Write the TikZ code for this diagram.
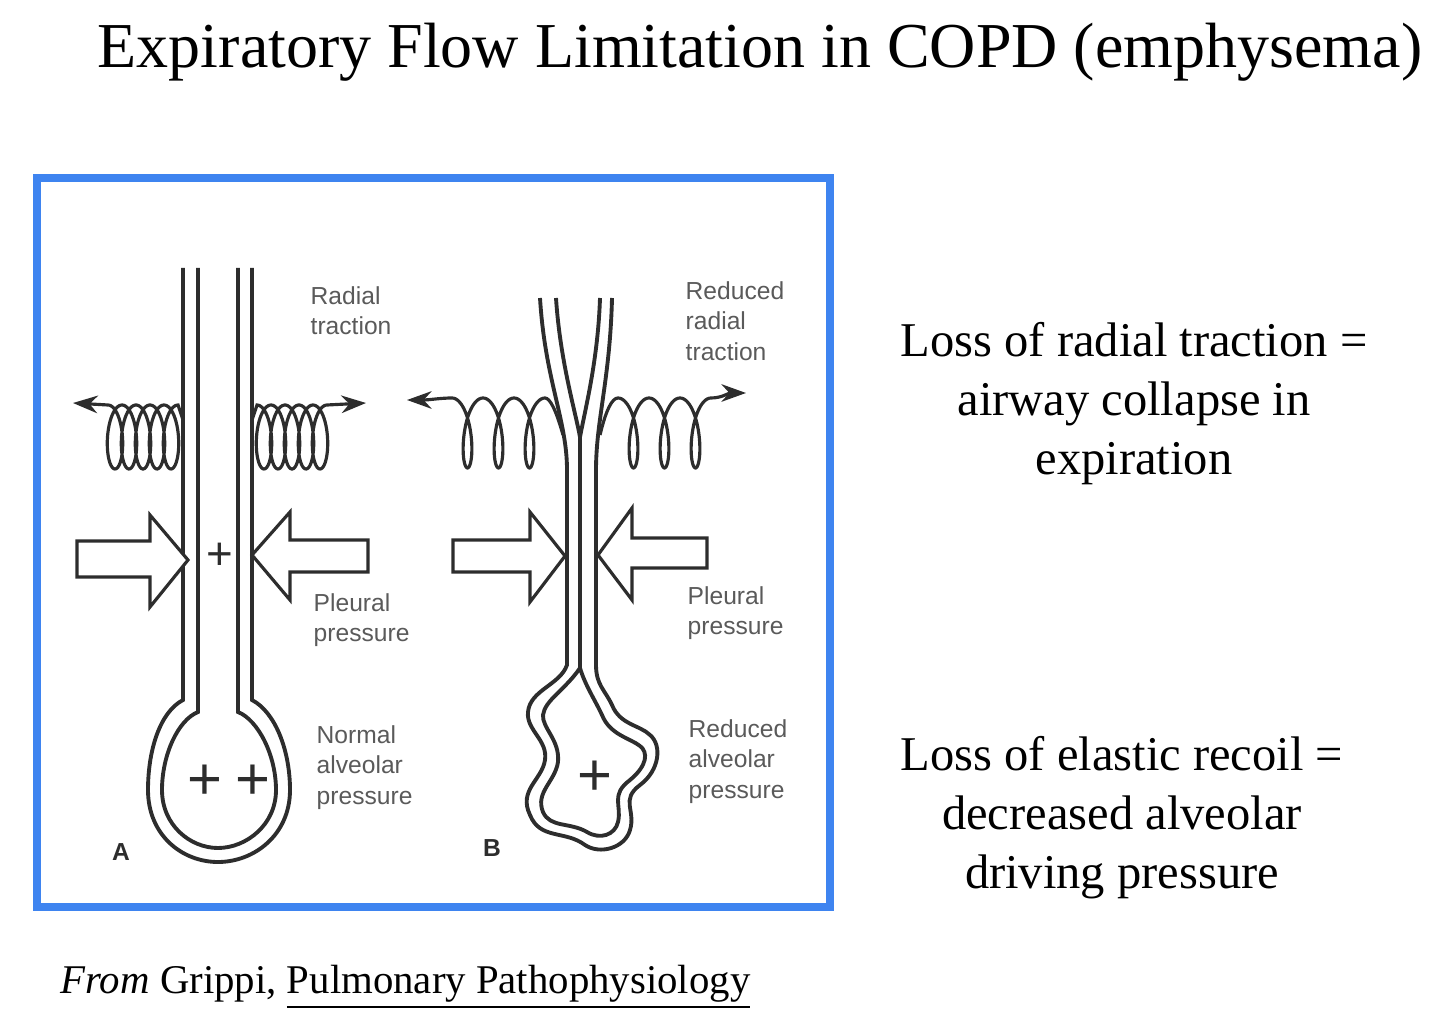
\documentclass[tikz,border=0pt]{standalone}
\usepackage{fontspec}
\setmainfont{Liberation Serif}
\newfontfamily\figfont{Liberation Sans}
\usetikzlibrary{arrows.meta}
\definecolor{frameblue}{RGB}{62,132,240}
\definecolor{inkgray}{RGB}{45,45,45}
\definecolor{labelgray}{RGB}{90,90,90}

\begin{document}
\begin{tikzpicture}[x=0.01cm, y=-0.01cm,
    wall/.style={draw=inkgray, line width=1.1pt},
    pull/.style={draw=inkgray, line width=0.9pt, -{Stealth[length=7pt,width=5pt]}},
    push/.style={draw=inkgray, line width=0.9pt, fill=white},
    lbl/.style={font=\figfont\fontsize{7}{8.6}\selectfont, text=labelgray, align=left, anchor=north west, inner sep=0pt},
    plus/.style={font=\figfont\fontsize{13}{13}\selectfont, text=inkgray, inner sep=0pt},
    side/.style={font=\fontsize{13.8}{16.8}\selectfont, align=center, inner sep=0pt}]
    \useasboundingbox (0,0) rectangle (1440,1031);

    % === Title and frame ===
    \node[font=\fontsize{18.2}{22}\selectfont, inner sep=0pt] (title) at (760,52) {Expiratory Flow Limitation in COPD (emphysema)};
    \draw[frameblue, line width=2.3pt] (37,178) rectangle (830,907);

    % === Panel A – normal airway ===
    \draw[wall] (183,268) -- (183,700) .. controls (160,712) and (148,750) .. (148,790)
        .. controls (148,835) and (182,862) .. (218,862) .. controls (254,862) and (290,835) .. (290,790)
        .. controls (290,750) and (275,712) .. (252,700) -- (252,268);
    \draw[wall] (198,268) -- (198,712) .. controls (178,720) and (162,755) .. (162,790)
        .. controls (162,825) and (190,848) .. (218,848) .. controls (246,848) and (276,825) .. (276,790)
        .. controls (276,755) and (258,720) .. (238,712) -- (238,268);
    \coordinate (aL) at (73,403);
    \coordinate (aR) at (366,403);
    \draw[pull] (183,420) -- plot[domain=0:31.416, samples=260, variable=\t] ({178-14*\t/6.2832-11*sin(\t r)},{437-32*cos(\t r)}) -- (aL);
    \draw[pull] (252,420) -- plot[domain=0:31.416, samples=260, variable=\t] ({257+14*\t/6.2832+11*sin(\t r)},{437-32*cos(\t r)}) -- (aR);
    \draw[push] (77,541) -- (150,541) -- (150,515) -- (188,560) -- (150,607) -- (150,577) -- (77,577) -- cycle;
    \draw[push] (368,540) -- (290,540) -- (290,512) -- (252,555) -- (290,600) -- (290,572) -- (368,572) -- cycle;
    \node[plus] (aTube) at (220,556) {+};
    \node[plus, font=\figfont\fontsize{17}{17}\selectfont] (aSac1) at (205,782) {+};
    \node[plus, font=\figfont\fontsize{17}{17}\selectfont] (aSac2) at (253,782) {+};
    \node[lbl] (aRad) at (310,286) {Radial\\traction};
    \node[lbl] (aPle) at (313,593) {Pleural\\pressure};
    \node[lbl] (aAlv) at (316,725) {Normal\\alveolar\\pressure};
    \node[font=\figfont\bfseries\fontsize{7}{8}\selectfont, text=inkgray] (aTag) at (121,852) {A};

    % === Panel B – emphysema ===
    \draw[wall] (540,298) .. controls (545,380) and (567,420) .. (567,470) -- (567,665)
        .. controls (560,685) and (530,690) .. (528,712) .. controls (526,730) and (548,740) .. (545,760)
        .. controls (542,780) and (518,790) .. (530,815) .. controls (540,840) and (565,830) .. (585,845)
        .. controls (600,855) and (625,848) .. (630,830) .. controls (636,810) and (620,800) .. (640,785)
        .. controls (660,770) and (662,745) .. (650,735) .. controls (640,725) and (620,725) .. (612,705)
        .. controls (605,690) and (596,685) .. (596,665) -- (596,470) .. controls (596,420) and (610,380) .. (612,298);
    \draw[wall] (556,298) .. controls (560,360) and (575,410) .. (580,437) .. controls (585,410) and (598,360) .. (600,298);
    \draw[wall] (580,437) -- (580,668)
        .. controls (565,690) and (545,700) .. (543,715) .. controls (542,728) and (560,740) .. (558,762)
        .. controls (555,782) and (535,792) .. (543,812) .. controls (550,828) and (570,822) .. (587,832)
        .. controls (600,840) and (615,835) .. (618,822) .. controls (622,805) and (610,795) .. (630,780)
        .. controls (648,765) and (648,752) .. (640,746) .. controls (630,738) and (610,735) .. (602,715)
        .. controls (595,700) and (585,685) .. (580,668);
    \coordinate (bL) at (407,400);
    \coordinate (bR) at (746,393);
    \draw[pull] (563,435) .. controls (556,410) and (550,398) .. (545,398)
        -- plot[domain=0:18.85, samples=220, variable=\t] ({545-31*\t/6.2832-11*sin(\t r)},{433-35*cos(\t r)})
        .. controls (440,398) and (430,400) .. (bL);
    \draw[pull] (600,435) .. controls (606,410) and (612,398) .. (618,398)
        -- plot[domain=0:18.85, samples=220, variable=\t] ({618+31*\t/6.2832+11*sin(\t r)},{433-35*cos(\t r)})
        .. controls (722,398) and (728,393) .. (bR);
    \draw[push] (453,540) -- (530,540) -- (530,512) -- (565,556) -- (530,602) -- (530,572) -- (453,572) -- cycle;
    \draw[push] (707,538) -- (632,538) -- (632,508) -- (598,555) -- (632,600) -- (632,568) -- (707,568) -- cycle;
    \node[plus, font=\figfont\fontsize{17}{17}\selectfont] (bSac) at (595,778) {+};
    \node[lbl] (bRad) at (685,281) {Reduced\\radial\\traction};
    \node[lbl] (bPle) at (687,586) {Pleural\\pressure};
    \node[lbl] (bAlv) at (688,719) {Reduced\\alveolar\\pressure};
    \node[font=\figfont\bfseries\fontsize{7}{8}\selectfont, text=inkgray] (bTag) at (492,848) {B};

    % === Side notes ===
    \node[side] (noteTop) at (1134,404) {Loss of radial traction =\\airway collapse in\\expiration};
    \node[side] (noteBot) at (1122,818) {Loss of elastic recoil =\\decreased alveolar\\driving pressure};
    \node[font=\fontsize{11.6}{14}\selectfont, anchor=west, inner sep=0pt] (source) at (60,987)
        {\textit{From} Grippi, \underline{Pulmonary Pathophysiology}};
\end{tikzpicture}
\end{document}
